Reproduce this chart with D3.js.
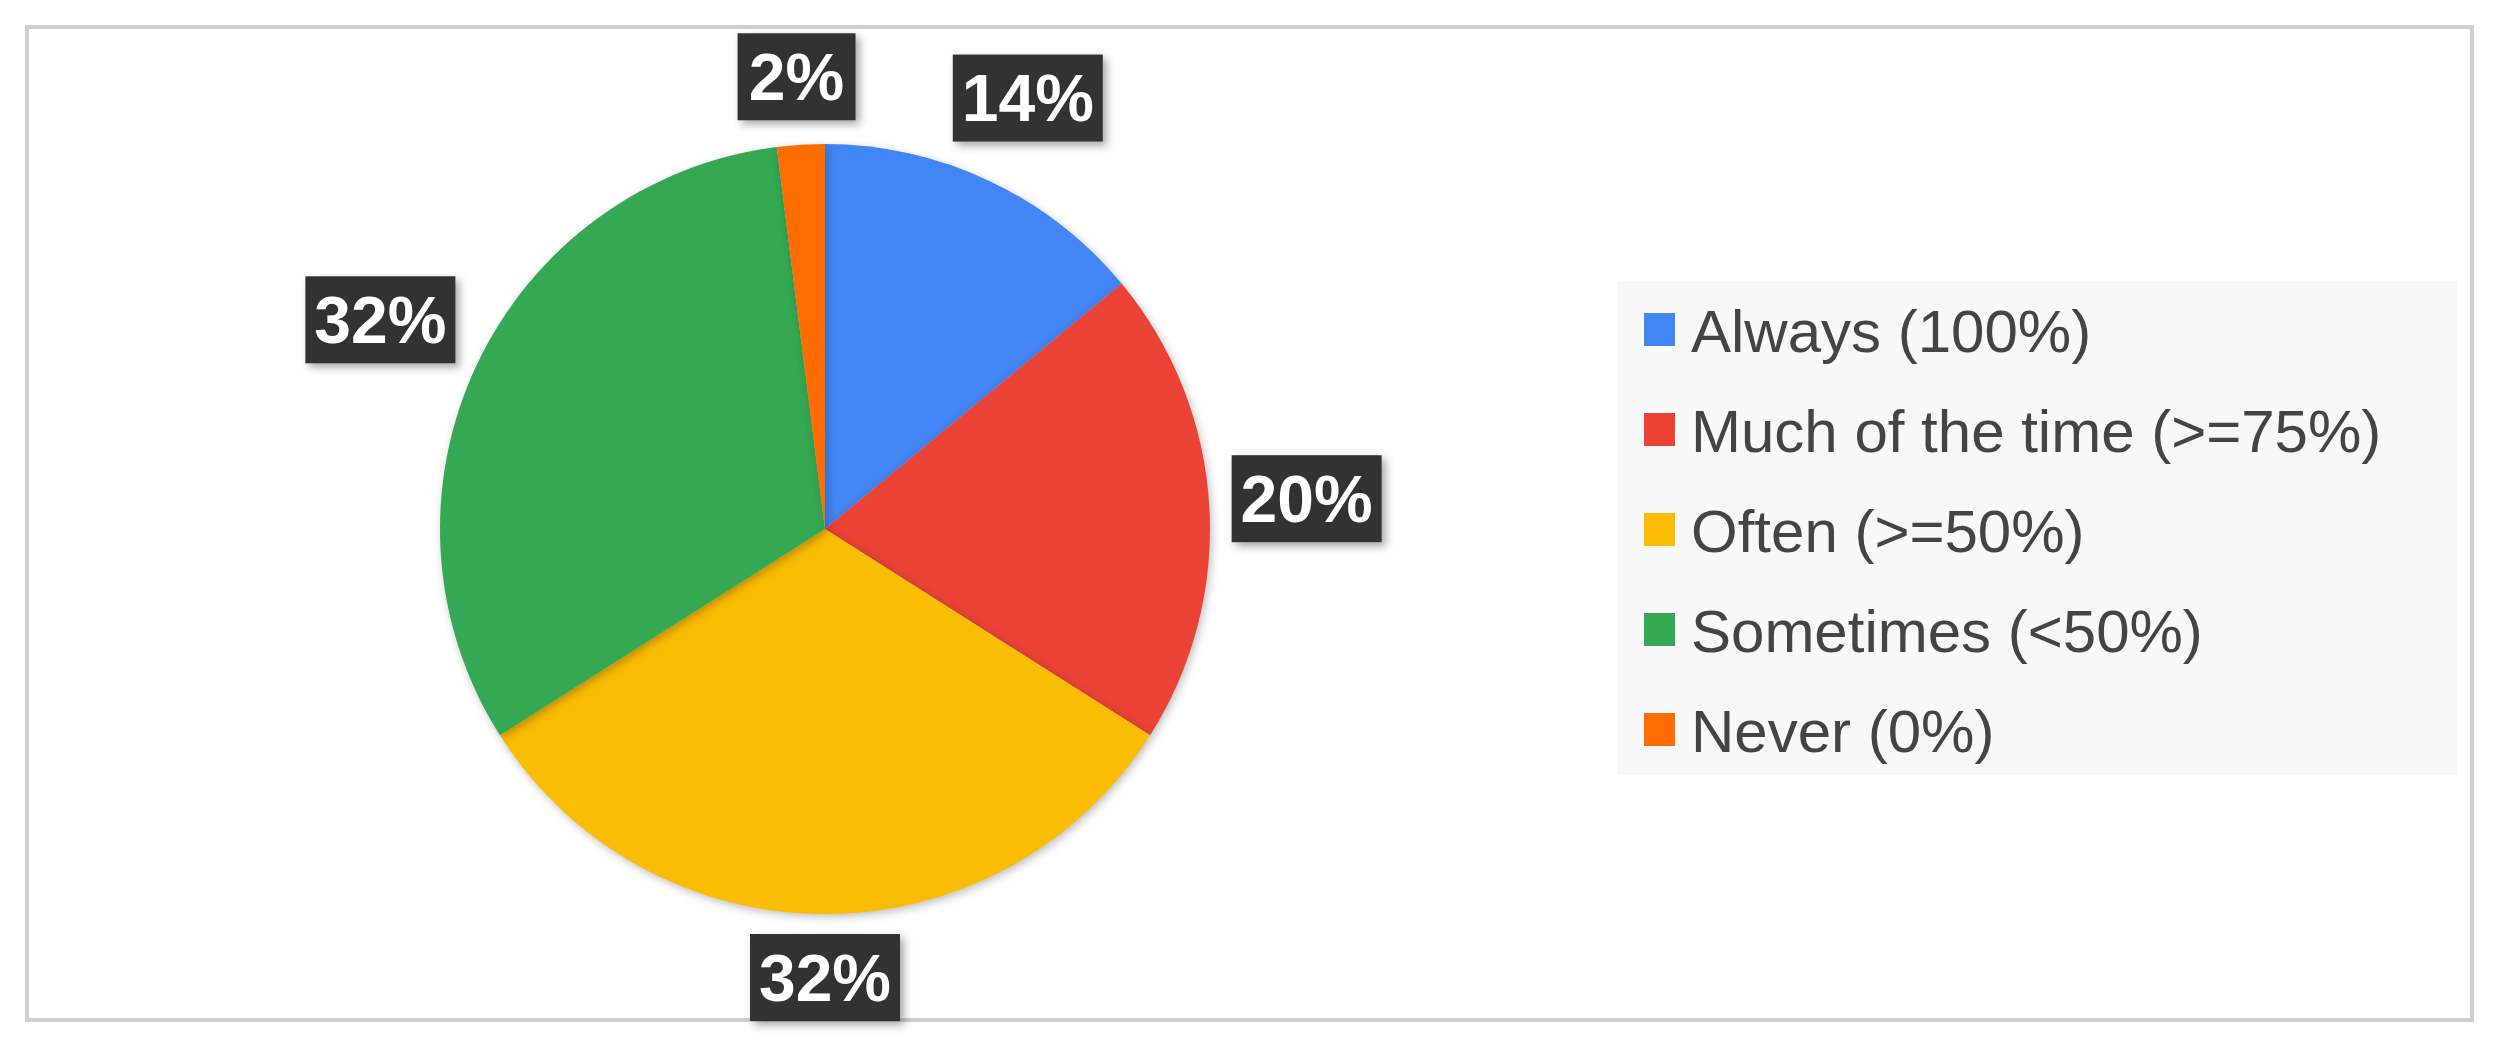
<!DOCTYPE html>
<html>
<head>
<meta charset="UTF-8">
<script src="https://d3js.org/d3.v7.min.js"></script>
<style>
  body { margin: 0; background: #fff; }
</style>
</head>
<body>
<script>
  // data
  const categories = ["Always (100%)", "Much of the time (>=75%)", "Often (>=50%)", "Sometimes (<50%)", "Never (0%)"];
  const values = [14, 20, 32, 32, 2];
  const colors = ["#4285f4", "#ea4335", "#fbbc04", "#34a853", "#ff6d01"];

  const w = 2499, h = 1044;
  const cx = 825, cy = 529, R = 385;

  const svg = d3.select("body").append("svg")
    .attr("width", w).attr("height", h)
    .style("font-family", "'Liberation Sans', Arial, sans-serif");

  const defs = svg.append("defs");
  const shadow = defs.append("filter").attr("id", "shadow")
    .attr("x", "-20%").attr("y", "-20%").attr("width", "140%").attr("height", "140%");
  shadow.append("feDropShadow").attr("dx", 4).attr("dy", 4).attr("stdDeviation", 4)
    .attr("flood-color", "#000").attr("flood-opacity", 0.35);

  // outer frame
  svg.append("rect")
    .attr("x", 27).attr("y", 27).attr("width", 2445).attr("height", 993)
    .attr("fill", "#fff").attr("stroke", "#cfcfcf").attr("stroke-width", 4);

  const pie = d3.pie().sort(null).value(d => d);
  const arcs = pie(values);
  const arc = d3.arc().innerRadius(0).outerRadius(R);

  const g = svg.append("g").attr("transform", `translate(${cx},${cy})`);
  g.selectAll("path")
    .data(arcs)
    .enter()
    .append("path")
    .attr("d", arc)
    .attr("fill", (d, i) => colors[i])
    .style("filter", "drop-shadow(2px 3px 4px rgba(0,0,0,0.25))");

  // labels
  const boxW = 150, boxH = 87, gap = 20;
  const labels = g.selectAll("g.label")
    .data(arcs)
    .enter()
    .append("g")
    .attr("class", "label")
    .attr("transform", d => {
      const a = (d.startAngle + d.endAngle) / 2;
      const s = Math.sin(a), c = Math.cos(a);
      const r = R + gap + Math.abs(s) * boxW / 2 + Math.abs(c) * boxH / 2;
      return `translate(${s * r},${-c * r})`;
    });

  labels.append("rect")
    .attr("x", d => -(String(Math.round(d.data)).length > 1 ? boxW : 118) / 2)
    .attr("y", -boxH / 2)
    .attr("width", d => String(Math.round(d.data)).length > 1 ? boxW : 118)
    .attr("height", boxH)
    .attr("fill", "#333")
    .attr("filter", "url(#shadow)");

  labels.append("text")
    .attr("text-anchor", "middle")
    .attr("dy", "0.35em")
    .attr("fill", "#fff")
    .attr("font-weight", "bold")
    .attr("font-size", 66)
    .text(d => Math.round(d.data) + "%");

  // legend
  const lx = 1617, ly = 281;
  svg.append("rect")
    .attr("x", lx).attr("y", ly).attr("width", 840).attr("height", 494)
    .attr("fill", "#f8f8f8");

  const rowY = d3.scaleBand().domain(categories).range([ly + 0, ly + 500]);
  const items = svg.selectAll("g.legend")
    .data(categories)
    .enter()
    .append("g")
    .attr("class", "legend")
    .attr("transform", d => `translate(${lx + 27},${rowY(d) + rowY.bandwidth() / 2 - 1})`);

  items.append("rect")
    .attr("x", 0).attr("y", -17).attr("width", 31).attr("height", 33)
    .attr("fill", (d, i) => colors[i]);

  items.append("text")
    .attr("x", 47)
    .attr("dy", "0.36em")
    .attr("font-size", 60)
    .attr("fill", "#444")
    .text(d => d);
</script>
</body>
</html>
